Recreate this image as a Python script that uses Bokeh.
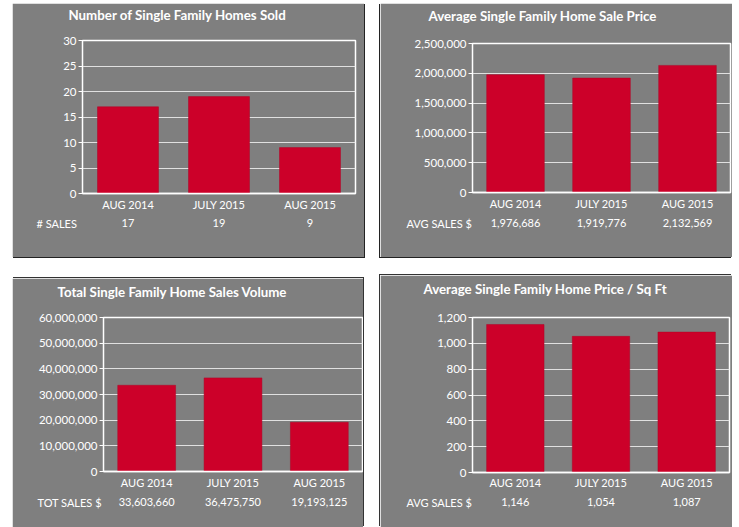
from bokeh.plotting import figure
from bokeh.models import (FactorRange, CategoricalAxis, SingleIntervalTicker,
                          NumeralTickFormatter, Range1d, Spacer, Title)
from bokeh.layouts import row, column
from bokeh.embed import file_html
from bokeh.resources import INLINE

# ---------------- data ----------------
months = ["AUG 2014", "JULY 2015", "AUG 2015"]

homes_sold = [17, 19, 9]
avg_sale_price = [1976686, 1919776, 2132569]
total_volume = [33603660, 36475750, 19193125]
price_per_sqft = [1146, 1054, 1087]

titles = ["Number of Single Family Homes Sold",
          "Average Single Family Home Sale Price",
          "Total Single Family Home Sales Volume",
          "Average Single Family Home Price / Sq Ft"]
row_labels = ["# SALES", "AVG SALES $", "TOT SALES $", "AVG SALES $"]
y_max = [30, 2500000, 60000000, 1200]
y_step = [5, 500000, 10000000, 200]

BG = "#7f7f7f"
BAR = "#cc0029"
TXT = "#ffffff"
FONT = "Lato"


def panel(values, title, row_label, ymax, ystep, w, h, bl, br, bt, bb,
          title_off, filler_standoff, cat_so, val_so, row_off, shadow):
    p = figure(x_range=FactorRange(factors=months), y_range=Range1d(0, ymax),
               width=w, height=h, output_backend="svg", toolbar_location=None,
               min_border_left=bl, min_border_right=br, min_border_top=bt,
               min_border_bottom=bb, title=None)
    p.styles = {"box-shadow": shadow}
    p.background_fill_color = BG
    p.border_fill_color = BG
    p.outline_line_color = "white"
    p.outline_line_width = 1.5

    p.vbar(x=months, top=values, width=0.67, fill_color=BAR, line_color="#b30024",
           line_width=0.5)

    # spacer title (background coloured) next to the frame, real title above it
    p.add_layout(Title(text=".", text_color=BG, text_font_size="8px",
                       standoff=filler_standoff), "above")
    p.add_layout(Title(text=title, align="left", offset=title_off,
                       vertical_align="top", standoff=0, text_color=TXT,
                       text_font=FONT, text_font_style="bold",
                       text_font_size="13.3px"), "above")

    p.xgrid.grid_line_color = None
    p.ygrid.grid_line_color = "#e0e0e0"
    p.ygrid.grid_line_width = 1

    ya = p.yaxis[0]
    ya.ticker = SingleIntervalTicker(interval=ystep)
    ya.formatter = NumeralTickFormatter(format="0,0")
    ya.axis_line_color = "white"
    ya.major_tick_line_color = "white"
    ya.major_tick_out = 4
    ya.major_tick_in = 0
    ya.minor_tick_line_color = None
    ya.major_label_standoff = 2
    ya.major_label_text_color = TXT
    ya.major_label_text_font = FONT
    ya.major_label_text_font_size = "11.5px"

    xa = p.xaxis[0]
    xa.axis_line_color = "white"
    xa.axis_line_width = 1.5
    xa.major_tick_line_color = None
    xa.major_tick_out = 0
    xa.major_tick_in = 0
    xa.major_label_standoff = cat_so
    xa.major_label_text_color = TXT
    xa.major_label_text_font = FONT
    xa.major_label_text_font_size = "11px"

    val_strings = [f"{v:,}" for v in values]
    p.extra_x_ranges = {"vals": FactorRange(factors=val_strings)}
    va = CategoricalAxis(x_range_name="vals")
    va.axis_line_color = None
    va.major_tick_line_color = None
    va.major_tick_out = 0
    va.major_tick_in = 0
    va.major_label_standoff = val_so
    va.major_label_text_color = TXT
    va.major_label_text_font = FONT
    va.major_label_text_font_size = "11px"
    p.add_layout(va, "below")

    # row caption, pulled up into the value row
    p.add_layout(Title(text=row_label, align="left", offset=row_off,
                       vertical_align="top", standoff=-26, text_color=TXT,
                       text_font=FONT, text_font_style="normal",
                       text_font_size="11px"), "below")
    return p


p1 = panel(homes_sold, titles[0], row_labels[0], y_max[0], y_step[0],
           352, 254, 70, 9, 37, 64, -14, 9, 4, 5, -46, "1px 1px 0 #222")
p2 = panel(avg_sale_price, titles[1], row_labels[1], y_max[1], y_step[1],
           352, 254, 92, 2, 40, 65, -44, 11, 4, 6, -66, "-1px 1px 0 #222")
p3 = panel(total_volume, titles[2], row_labels[2], y_max[2], y_step[2],
           351, 249, 91, 1, 39, 56, -46, 9, 4, 6, -66, "1px -1px 0 #333")
p4 = panel(price_per_sqft, titles[3], row_labels[3], y_max[3], y_step[3],
           352, 252, 92, 3, 42, 55, -49, 12, 3, 6, -66, "-1px -1px 0 #333")

col1 = column(Spacer(width=352, height=3), row(p1), Spacer(width=352, height=21), row(p3))
col2 = column(Spacer(width=352, height=3), row(p2), Spacer(width=352, height=18), row(p4))
layout = row(Spacer(width=12, height=527), col1, Spacer(width=16, height=527), col2)

open("out.html", "w").write(file_html(layout, INLINE))
